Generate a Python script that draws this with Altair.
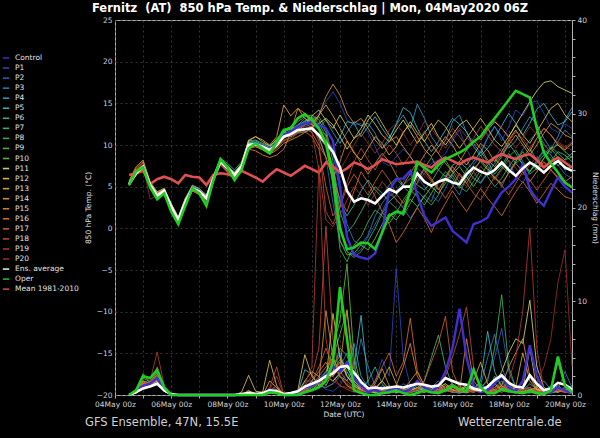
import altair as alt
import pandas as pd

# ---------------- categories / labels ----------------
SERIES = ["Control"] + [f"P{i}" for i in range(1, 21)] + ["Ens. average", "Oper", "Mean 1981-2010"]
MEMBERS = [f"P{i}" for i in range(1, 21)]
COLORS = ["#4030d0", "#2a4cc8", "#2e64c8", "#3480c4", "#38a0c8", "#40c0d0", "#3cc0a0", "#40c080",
          "#44b860", "#4cc048", "#60c838", "#e0e070", "#e8c850", "#e8b040", "#e89838", "#e88838",
          "#e07030", "#d86030", "#c84c34", "#b83c30", "#a03030", "#ffffff", "#22cc22", "#e05050"]
# forecast hours after 04May2020 00Z (6-hourly steps)
HOURS = list(range(12, 391, 6))
TITLE = "Fernitz\u00a0 (AT)\u00a0 850 hPa Temp. & Niederschlag | Mon, 04May2020 06Z"

# ---------------- 850 hPa temperature (°C) ----------------
T_AVG = [5.3, 6.6, 7.4, 5.2, 3.9, 4.5, 2.6, 1.0, 3.2, 4.8, 4.4, 3.6, 6.0, 8.0, 7.2, 6.4,
         7.4, 10.0, 10.1, 9.8, 9.4, 10.0, 11.0, 11.3, 11.8, 11.9, 12.0, 11.2, 10.2, 9.2, 7.3, 4.5,
         3.2, 3.6, 3.4, 3.0, 3.9, 4.7, 4.3, 5.0, 5.0, 6.6, 5.6, 5.1, 5.6, 5.9, 5.5, 5.3,
         6.5, 7.3, 6.8, 6.5, 7.0, 7.9, 7.0, 6.3, 7.2, 7.9, 7.4, 6.7, 7.5, 8.1, 7.3, 6.9]
T_MEAN = [6.4, 6.6, 6.9, 5.3, 5.9, 6.2, 5.9, 5.4, 6.4, 6.2, 6.1, 5.2, 6.4, 6.6, 6.5, 6.2,
          6.9, 6.5, 6.1, 5.6, 6.4, 7.1, 6.7, 6.3, 6.9, 7.5, 7.1, 6.7, 7.9, 7.4, 6.7, 7.2,
          7.9, 7.6, 7.1, 7.6, 8.3, 8.0, 7.7, 7.8, 7.9, 8.0, 7.6, 7.3, 8.0, 8.5, 8.1, 7.7,
          8.2, 8.5, 8.2, 7.9, 8.5, 8.9, 8.6, 8.3, 8.7, 8.9, 8.2, 7.3, 8.0, 8.5, 7.9, 7.3]
T_OPER = [5.2, 6.8, 7.3, 4.9, 3.5, 4.2, 2.0, 0.5, 2.7, 4.8, 4.2, 2.7, 5.8, 8.3, 7.3, 5.8,
          7.0, 9.6, 10.2, 9.6, 9.0, 10.3, 11.8, 12.0, 13.2, 13.7, 13.0, 12.0, 10.2, 6.0, 0.0, -2.5,
          -2.3, -1.7, -1.8, -2.5, -0.5, 1.5, 2.0, 1.8, 4.5, 7.9, 7.3, 6.7, 7.6, 8.3, 8.7, 9.1,
          9.6, 10.4, 11.0, 12.2, 13.2, 14.3, 15.4, 16.5, 16.1, 15.7, 12.0, 9.1, 7.8, 6.7, 5.5, 4.9]
T_CONTROL = [5.3, 6.7, 7.4, 5.1, 3.8, 4.5, 2.5, 0.8, 3.2, 4.9, 4.5, 3.5, 6.1, 8.1, 7.1, 6.2,
             7.3, 9.9, 10.2, 9.9, 9.5, 10.1, 11.2, 11.6, 12.2, 12.6, 12.8, 12.4, 12.0, 10.5, 5.0, -1.0,
             -3.2, -3.5, -3.7, -3.0, -0.5, 4.5, 5.9, 6.0, 6.9, 4.0, 1.5, 0.3, 0.8, 1.3, -0.3, -1.0,
             -1.7, 0.5, 0.8, 1.3, 3.0, 4.3, 5.0, 5.9, 7.7, 4.7, 3.5, 2.7, 4.5, 6.1, 5.0, 4.3]
T_P1 = [5.4, 6.8, 7.5, 5.0, 3.8, 4.6, 2.5, 0.8, 3.3, 5.0, 4.6, 3.4, 6.1, 8.2, 7.0, 6.2,
        7.6, 10.2, 10.4, 9.9, 9.2, 10.1, 11.3, 11.8, 12.5, 12.8, 13.0, 13.8, 15.2, 16.4, 15.0, 13.0,
        12.4, 12.6, 11.5, 9.8, 8.0, 7.5, 8.6, 9.5, 8.7, 7.2, 6.5, 7.8, 8.2, 9.0, 10.5, 11.8,
        9.5, 8.0, 9.2, 11.0, 12.3, 10.5, 12.2, 14.2, 13.5, 15.0, 15.3, 13.8, 12.0, 11.5, 12.5, 12.0]
T_P2 = [5.2, 6.5, 7.2, 5.3, 4.1, 4.4, 2.7, 1.2, 3.1, 4.7, 4.3, 3.7, 5.9, 7.9, 7.3, 6.5,
        7.2, 9.8, 9.9, 9.6, 9.5, 9.8, 10.8, 11.2, 12.2, 12.6, 12.1, 10.8, 8.5, 3.0, -1.5, -2.8,
        -3.2, -2.5, -1.0, 0.5, 2.0, 3.8, 4.5, 5.6, 7.0, 6.2, 5.0, 4.0, 3.2, 4.8, 6.5, 7.5,
        8.2, 6.8, 5.5, 6.8, 8.5, 9.6, 8.0, 6.2, 5.5, 6.8, 8.0, 9.2, 8.4, 7.6, 6.5, 6.0]
T_P3 = [5.3, 6.6, 7.3, 5.1, 3.9, 4.5, 2.6, 0.9, 3.2, 4.9, 4.5, 3.5, 6.0, 8.1, 7.1, 6.3,
        7.5, 10.1, 10.2, 9.6, 9.3, 10.2, 11.2, 11.0, 11.6, 12.2, 12.5, 11.8, 11.2, 9.0, 4.5, 0.5,
        -1.5, -2.0, -0.8, 1.5, 3.0, 4.2, 3.5, 2.4, 1.2, 2.5, 4.0, 3.2, 5.5, 6.4, 5.2, 4.0,
        6.2, 7.6, 8.8, 7.5, 6.2, 5.0, 6.8, 8.0, 9.5, 10.6, 11.5, 10.2, 9.0, 10.4, 11.8, 11.0]
T_P4 = [5.4, 6.7, 7.5, 5.3, 4.0, 4.7, 2.8, 1.1, 3.4, 5.0, 4.6, 3.8, 6.2, 8.0, 7.4, 6.7,
        7.3, 9.7, 10.0, 9.8, 9.7, 10.5, 11.6, 11.9, 12.4, 13.2, 12.5, 12.0, 13.0, 11.5, 10.2, 11.5,
        12.8, 12.3, 12.6, 11.4, 9.6, 10.8, 12.4, 13.6, 12.0, 14.9, 13.2, 11.0, 9.8, 10.5, 12.8, 13.6,
        11.5, 10.2, 9.0, 10.8, 12.2, 11.0, 9.6, 10.5, 12.0, 13.4, 12.5, 10.8, 9.5, 11.0, 13.0, 14.5]
T_P5 = [5.2, 6.5, 7.3, 5.4, 4.2, 4.6, 2.9, 1.3, 3.5, 4.9, 4.2, 3.9, 6.3, 7.8, 7.2, 6.8,
        7.7, 10.3, 10.5, 10.0, 9.6, 10.3, 11.4, 11.6, 12.0, 12.8, 13.3, 12.0, 10.5, 9.5, 11.0, 12.8,
        12.6, 11.0, 12.2, 13.4, 12.0, 10.8, 12.5, 14.5, 13.9, 12.0, 10.5, 9.2, 10.4, 11.8, 13.2, 12.5,
        11.6, 9.8, 8.7, 9.6, 10.8, 12.3, 13.8, 12.6, 11.2, 12.6, 14.3, 15.0, 13.6, 12.4, 12.8, 14.0]
T_P6 = [5.3, 6.4, 7.2, 5.1, 4.0, 4.4, 2.5, 1.0, 3.0, 4.6, 4.2, 3.6, 5.8, 8.3, 7.6, 6.6,
        7.8, 10.5, 10.6, 10.2, 9.9, 10.6, 11.2, 11.0, 11.5, 11.6, 11.8, 11.0, 9.8, 7.5, 3.0, 1.5,
        2.8, 4.5, 5.8, 4.6, 3.8, 5.2, 6.0, 5.0, 4.2, 5.5, 7.2, 8.5, 7.0, 6.2, 7.6, 8.0,
        7.2, 6.0, 5.4, 6.6, 7.8, 8.8, 10.2, 9.0, 7.6, 6.8, 8.2, 9.4, 8.8, 7.5, 8.3, 9.0]
T_P7 = [5.5, 6.9, 7.6, 5.4, 4.3, 4.8, 2.9, 1.4, 3.6, 5.2, 4.8, 4.0, 6.4, 8.4, 7.8, 7.0,
        8.0, 10.4, 10.2, 10.0, 9.7, 10.8, 11.5, 11.4, 12.1, 12.4, 12.8, 12.2, 10.0, 7.0, 2.0, -0.5,
        0.5, 2.0, 3.6, 5.0, 4.2, 3.2, 4.0, 5.2, 6.0, 5.2, 4.6, 5.6, 7.0, 8.2, 6.8, 5.5,
        7.0, 8.0, 9.2, 8.0, 6.5, 7.5, 9.0, 7.8, 8.5, 9.6, 8.2, 7.4, 8.0, 9.2, 8.8, 8.0]
T_P8 = [5.2, 6.6, 7.4, 5.0, 3.7, 4.3, 2.3, 0.7, 2.9, 4.6, 4.3, 3.4, 5.9, 8.1, 7.5, 6.5,
        7.2, 9.8, 10.3, 10.1, 9.7, 10.2, 11.1, 11.3, 12.0, 12.5, 13.0, 13.4, 12.0, 8.0, 0.5, -2.8,
        -3.5, -2.8, -1.5, 0.0, 1.8, 3.2, 2.4, 1.5, 3.0, 4.5, 3.6, 2.8, 4.0, 5.8, 6.4, 5.0,
        4.4, 5.6, 7.0, 6.2, 5.0, 6.0, 7.4, 8.6, 7.8, 6.5, 7.2, 8.4, 9.6, 8.5, 7.0, 7.5]
T_P9 = [5.4, 6.6, 7.3, 5.1, 3.8, 4.4, 2.4, 0.8, 3.1, 4.7, 4.4, 3.3, 5.9, 8.2, 7.4, 6.2,
        7.3, 10.0, 10.3, 10.0, 9.5, 10.0, 11.2, 11.7, 12.3, 12.9, 13.4, 12.6, 11.0, 5.0, -2.5, -4.0,
        -2.0, -1.0, 0.8, 2.2, 1.5, 0.6, 1.8, 3.4, 4.6, 3.8, 2.8, 4.2, 5.6, 6.8, 6.0, 4.8,
        5.8, 7.2, 8.0, 7.0, 6.0, 7.2, 8.6, 9.4, 8.0, 6.8, 7.8, 8.8, 9.8, 9.0, 8.2, 8.6]
T_P10 = [5.3, 6.7, 7.5, 5.2, 3.8, 4.4, 2.4, 0.7, 3.0, 4.8, 4.4, 3.5, 6.0, 8.1, 7.3, 6.3,
         7.4, 10.1, 10.2, 9.9, 9.5, 10.2, 11.5, 12.0, 12.8, 13.4, 13.6, 13.0, 11.5, 6.5, -1.5, -3.2,
         -3.0, -2.0, -2.6, -1.2, 0.5, 1.8, 1.0, 2.2, 3.5, 2.6, 3.8, 5.0, 4.2, 5.4, 6.6, 7.4,
         6.2, 5.0, 6.4, 7.6, 8.4, 7.4, 6.6, 8.0, 9.2, 8.0, 7.0, 8.4, 9.6, 10.0, 9.2, 8.5]
T_P11 = [5.1, 6.4, 7.2, 5.3, 4.1, 4.6, 2.8, 1.2, 3.3, 4.9, 4.5, 3.8, 6.1, 7.9, 7.1, 6.6,
         7.6, 10.1, 10.0, 9.6, 9.2, 9.8, 10.9, 11.2, 11.6, 11.8, 12.2, 12.6, 13.2, 12.4, 11.0, 9.5,
         10.8, 12.0, 13.6, 12.5, 11.2, 10.4, 11.8, 13.0, 11.6, 10.2, 11.4, 12.6, 11.0, 10.0, 11.2, 12.4,
         13.0, 11.8, 10.6, 11.8, 12.8, 12.0, 11.0, 12.4, 13.8, 15.2, 16.5, 17.5, 17.7, 17.0, 16.6, 16.2]
T_P12 = [5.4, 6.9, 7.6, 5.4, 4.2, 4.7, 2.7, 1.1, 3.4, 5.1, 4.7, 3.9, 6.3, 8.3, 7.5, 6.6,
         7.6, 10.5, 11.0, 10.4, 9.9, 10.6, 11.8, 12.2, 11.8, 12.4, 13.5, 14.2, 13.0, 12.0, 13.6, 12.2,
         10.8, 11.4, 13.0, 14.0, 12.6, 11.2, 10.0, 11.4, 12.8, 11.5, 10.4, 11.8, 13.0, 12.2, 10.8, 9.6,
         10.8, 12.0, 13.2, 12.0, 10.6, 9.8, 11.0, 12.4, 11.2, 10.2, 11.6, 13.0, 14.4, 15.0, 13.6, 12.8]
T_P13 = [5.6, 7.2, 8.0, 5.6, 4.4, 4.8, 3.0, 1.3, 3.6, 5.0, 4.6, 3.9, 6.2, 8.0, 7.0, 6.6,
         7.8, 10.6, 11.0, 10.6, 10.0, 11.0, 14.8, 13.5, 14.4, 13.2, 12.5, 13.6, 14.8, 13.5, 12.0, 10.5,
         9.0, 8.2, 9.6, 11.0, 10.2, 8.8, 9.8, 11.6, 12.4, 11.0, 9.5, 8.6, 9.8, 11.0, 10.0, 8.5,
         7.6, 8.8, 10.2, 9.4, 8.0, 9.2, 10.6, 11.8, 10.4, 9.2, 10.8, 12.0, 11.2, 10.0, 9.4, 10.2]
T_P14 = [5.7, 7.4, 8.2, 5.5, 4.0, 4.5, 2.4, 0.9, 3.0, 4.5, 4.1, 3.2, 5.7, 7.8, 6.8, 5.8,
         7.0, 9.6, 9.8, 9.4, 8.9, 9.4, 10.2, 10.6, 11.0, 11.5, 12.0, 13.5, 15.8, 17.3, 16.0, 13.8,
         12.6, 13.2, 12.0, 10.6, 9.6, 10.4, 11.0, 9.8, 8.6, 7.4, 8.8, 10.0, 9.0, 7.8, 6.8, 8.0,
         9.4, 10.6, 9.6, 8.2, 7.4, 8.6, 10.0, 11.2, 10.0, 8.8, 10.0, 11.4, 12.6, 12.0, 11.2, 10.8]
T_P15 = [5.2, 6.5, 7.3, 5.2, 4.1, 4.7, 2.8, 1.2, 3.3, 4.8, 4.3, 3.6, 6.0, 7.7, 6.9, 6.4,
         7.0, 9.5, 9.3, 8.8, 8.5, 8.8, 9.5, 11.5, 14.4, 13.8, 12.5, 11.0, 8.5, 6.0, 8.0, 10.5,
         9.2, 7.8, 6.5, 7.8, 9.0, 8.0, 6.4, 5.2, 6.6, 8.0, 7.0, 5.8, 4.6, 6.0, 7.4, 6.4,
         5.4, 6.8, 8.2, 7.2, 6.0, 5.4, 6.6, 7.8, 6.8, 5.6, 6.8, 8.0, 7.0, 6.0, 5.6, 6.2]
T_P16 = [5.4, 7.0, 7.8, 5.3, 3.9, 4.5, 2.6, 1.0, 3.2, 4.7, 4.2, 3.4, 5.8, 7.9, 7.1, 6.1,
         7.1, 9.8, 10.0, 9.7, 9.2, 9.9, 10.8, 11.4, 11.8, 12.0, 11.5, 10.0, 8.5, 6.0, 3.5, 2.0,
         4.5, 6.8, 5.5, 3.8, 2.0, 0.5, -1.7, -0.5, 1.0, 2.5, 1.2, -0.5, 1.5, 3.0, 4.5, 3.2,
         2.0, 3.4, 4.8, 3.6, 2.6, 1.5, 3.0, 4.4, 5.6, 4.4, 3.0, 4.2, 5.4, 4.6, 3.8, 3.5]
T_P17 = [5.5, 6.8, 7.6, 5.0, 3.6, 4.3, 2.2, 0.6, 2.9, 4.5, 4.0, 3.1, 5.6, 7.6, 6.7, 5.9,
         6.9, 9.6, 9.8, 9.5, 9.0, 9.6, 10.5, 10.8, 11.4, 11.6, 11.0, 9.5, 5.0, 1.5, 2.5, 5.0,
         6.5, 5.2, 4.0, 5.6, 7.0, 5.8, 4.2, 3.0, 4.4, 6.0, 7.2, 6.0, 4.8, 3.6, 5.0, 6.6,
         5.4, 4.2, 3.4, 4.8, 6.2, 5.2, 4.0, 5.4, 6.8, 5.8, 4.6, 5.8, 7.0, 6.2, 5.6, 5.0]
T_P18 = [5.3, 6.5, 7.4, 5.1, 3.8, 4.4, 2.5, 0.9, 3.1, 4.6, 4.1, 3.3, 5.7, 7.7, 6.9, 6.0,
         7.0, 9.7, 9.9, 9.6, 9.1, 9.7, 10.6, 11.0, 11.6, 12.0, 12.3, 10.5, 2.0, 0.5, 2.8, 5.5,
         8.0, 9.6, 8.2, 7.0, 8.6, 10.0, 9.0, 7.6, 8.8, 10.4, 11.6, 10.2, 9.0, 10.6, 12.0, 11.0,
         9.8, 10.8, 12.2, 11.2, 10.0, 9.2, 10.4, 11.6, 10.8, 9.6, 10.8, 12.0, 11.2, 10.2, 9.6, 10.4]
T_P19 = [5.2, 6.4, 7.2, 5.0, 3.7, 4.4, 2.5, 0.9, 3.1, 4.7, 4.2, 3.4, 5.8, 7.8, 7.0, 6.1,
         7.1, 9.8, 10.1, 9.7, 9.3, 9.9, 10.9, 11.2, 11.7, 12.0, 11.6, 7.0, 1.0, 0.2, 1.6, 3.4,
         5.0, 4.0, 2.8, 4.2, 5.6, 4.6, 3.4, 2.6, 4.0, 5.4, 6.6, 5.6, 4.6, 5.8, 7.0, 6.0,
         5.0, 6.2, 7.4, 6.6, 5.8, 7.0, 8.2, 7.2, 6.4, 7.6, 8.6, 7.8, 7.0, 8.0, 7.4, 7.0]
T_P20 = [5.4, 6.7, 7.5, 3.5, 3.9, 4.6, 2.7, 1.0, 3.3, 4.9, 4.5, 3.7, 6.1, 8.0, 7.2, 6.4,
         7.3, 10.0, 10.2, 9.8, 9.4, 10.1, 11.1, 11.5, 12.0, 12.4, 12.6, 12.0, 11.0, 9.5, 7.0, 8.5,
         10.0, 11.4, 10.2, 9.0, 10.2, 11.8, 12.6, 11.4, 10.0, 11.2, 12.8, 12.0, 10.8, 9.6, 10.8, 12.0,
         11.0, 9.8, 10.6, 11.8, 13.0, 12.0, 10.8, 9.6, 10.8, 12.2, 11.2, 10.0, 9.2, 10.4, 9.8, 9.4]

# ---------------- 6-hourly precipitation (mm) ----------------
P_AVG = [0, 0.3, 0.7, 0.9, 1.2, 0.5, 0.1, 0, 0, 0, 0, 0, 0, 0, 0, 0,
         0.1, 0.2, 0.1, 0.2, 0.5, 0.4, 0.1, 0.2, 0.4, 0.9, 1.2, 1.5, 2.0, 2.3, 3.0, 3.1,
         2.4, 1.4, 0.7, 0.8, 0.7, 0.8, 0.9, 0.8, 1.0, 1.2, 1.1, 0.9, 1.0, 1.8, 1.5, 1.2,
         1.1, 0.7, 0.5, 0.9, 1.6, 2.1, 1.3, 0.9, 0.8, 2.1, 1.2, 0.5, 0.7, 1.3, 1.1, 0.6]
P_OPER = [0, 0.5, 2.0, 1.8, 2.7, 0.8, 0, 0, 0, 0, 0, 0, 0, 0, 0, 0,
          0, 0, 0, 0, 0.3, 0.2, 0, 0, 0, 0.3, 0.5, 0.8, 1.5, 3.5, 11.5, 6.0,
          0.5, 0.2, 0, 0, 0.2, 0.3, 0.5, 0.2, 0, 0.2, 0.5, 0.3, 0.2, 0.5, 1.0, 0.6,
          0.4, 2.7, 0.8, 0.2, 0.2, 0.6, 0.4, 0.3, 0.2, 0.4, 0.2, 0.1, 0.5, 4.1, 1.0, 0.3]
P_CONTROL = [0, 0.4, 1.0, 1.2, 1.8, 0.6, 0, 0, 0, 0, 0, 0, 0, 0, 0, 0,
             0, 0.2, 0, 0, 0.6, 0.4, 0, 0, 0.3, 0.8, 1.0, 1.5, 2.2, 3.0, 2.5, 3.5,
             1.8, 1.0, 0.3, 0.6, 0.2, 0.5, 0.8, 0.3, 0.6, 1.5, 0.8, 0.4, 0.9, 2.5, 5.0, 9.2,
             4.0, 1.0, 0.3, 0.5, 1.2, 2.0, 0.8, 0.4, 1.5, 5.3, 2.0, 0.4, 0.3, 0.8, 0.5, 0.2]
P_P1 = [0, 0.3, 1.2, 0.8, 2.0, 0.4, 0, 0, 0, 0, 0, 0, 0, 0, 0, 0,
        0, 0, 0, 0, 0.2, 0.6, 0, 0, 0, 0.5, 0.8, 1.2, 0.6, 0.4, 1.0, 2.5,
        1.2, 0.6, 0.3, 1.5, 3.8, 2.0, 13.5, 4.0, 1.0, 0.5, 0.8, 0.3, 0.6, 1.0, 0.4, 0.2,
        0.5, 0.8, 0.3, 0.6, 1.0, 0.5, 0.3, 0.8, 1.2, 0.6, 0.3, 0.2, 0.5, 0.8, 0.4, 0.3]
P_P2 = [0, 0.2, 0.9, 1.0, 1.5, 0.5, 0, 0, 0, 0, 0, 0, 0, 0, 0, 0,
        0, 0, 0, 0, 0.4, 0.8, 0, 0, 0.2, 0.6, 1.0, 1.8, 2.5, 3.2, 4.5, 2.0,
        1.0, 0.4, 0.2, 0.5, 0.8, 0.3, 0.6, 1.2, 0.8, 0.3, 0.5, 1.0, 0.6, 0.3, 0.8, 1.5,
        0.6, 0.3, 0.5, 1.8, 4.0, 7.1, 2.5, 0.8, 0.4, 0.6, 0.3, 0.5, 1.0, 0.6, 0.3, 0.2]
P_P3 = [0, 0.3, 1.1, 0.9, 1.7, 0.4, 0, 0, 0, 0, 0, 0, 0, 0, 0, 0,
        0, 0, 0, 0, 0.3, 0.3, 0, 0, 0.3, 1.5, 1.5, 1.0, 1.8, 2.0, 3.0, 4.5,
        2.0, 6.0, 3.0, 1.0, 0.4, 0.8, 0.5, 0.3, 0.6, 1.0, 0.4, 0.2, 0.5, 0.8, 1.2, 0.6,
        0.3, 0.5, 1.0, 4.0, 6.5, 3.0, 1.0, 0.4, 0.3, 0.6, 0.8, 0.4, 0.3, 0.6, 2.5, 0.8]
P_P4 = [0, 0.2, 0.8, 1.1, 1.4, 0.5, 0, 0, 0, 0, 0, 0, 0, 0, 0, 0,
        0, 0, 0, 0, 0.2, 0.2, 0, 0, 0, 0.6, 1.0, 1.4, 2.0, 1.5, 2.4, 3.0,
        5.5, 2.0, 0.8, 0.4, 1.0, 0.6, 0.3, 0.5, 1.0, 0.6, 0.3, 0.8, 1.5, 0.6, 0.3, 0.2,
        0.4, 0.8, 1.2, 0.6, 0.3, 0.5, 0.8, 0.3, 0.2, 0.5, 0.8, 1.5, 0.6, 0.3, 0.5, 1.0]
P_P5 = [0, 0.3, 1.0, 1.0, 1.9, 0.6, 0, 0, 0, 0, 0, 0, 0, 0, 0, 0,
        0, 0, 0, 0, 0.4, 0.5, 0, 0, 0.2, 2.7, 2.2, 1.0, 0.8, 1.2, 2.0, 1.5,
        3.0, 8.5, 1.2, 0.5, 0.3, 0.6, 1.0, 0.4, 0.3, 0.5, 0.8, 0.3, 0.2, 0.6, 1.0, 0.5,
        0.3, 0.6, 1.5, 6.8, 2.5, 0.8, 0.4, 0.3, 0.6, 0.8, 0.4, 0.3, 0.6, 1.0, 0.4, 0.3]
P_P6 = [0, 0.4, 1.3, 1.0, 1.6, 0.5, 0, 0, 0, 0, 0, 0, 0, 0, 0, 0,
        0, 0.1, 0, 0, 0.3, 0.3, 0, 0, 0.2, 0.4, 0.8, 1.5, 2.2, 3.0, 4.2, 2.5,
        1.0, 0.5, 1.5, 3.0, 1.2, 0.4, 0.2, 0.6, 1.0, 0.5, 0.3, 0.6, 1.2, 0.8, 0.4, 0.3,
        0.5, 1.0, 0.6, 0.3, 2.0, 1.0, 0.4, 0.2, 0.5, 1.2, 0.6, 0.3, 0.2, 0.4, 0.8, 0.3]
P_P7 = [0, 0.6, 2.3, 1.2, 2.2, 0.7, 0, 0, 0, 0, 0, 0, 0, 0, 0, 0,
        0, 0, 0, 0, 0.2, 0.3, 0, 0, 0, 0.3, 0.6, 1.0, 1.6, 2.5, 3.8, 3.0,
        1.5, 0.6, 0.3, 0.8, 0.4, 0.2, 0.5, 0.8, 0.3, 0.6, 1.5, 4.0, 6.4, 3.0, 1.0, 0.4,
        0.2, 0.5, 0.8, 0.4, 0.3, 0.6, 1.0, 0.5, 0.3, 0.2, 0.6, 0.4, 0.3, 0.8, 0.5, 0.3]
P_P8 = [0, 0.3, 1.0, 1.1, 1.6, 0.5, 0, 0, 0, 0, 0, 0, 0, 0, 0, 0,
        0, 0, 0, 0, 0.3, 0.2, 0, 0, 0.2, 0.5, 1.0, 1.2, 2.0, 2.6, 5.0, 4.2,
        2.0, 0.8, 0.4, 0.2, 0.5, 0.3, 0.6, 0.4, 0.2, 0.5, 0.3, 0.6, 0.4, 0.8, 0.5, 0.3,
        0.6, 0.4, 0.8, 1.5, 5.0, 10.7, 3.0, 0.8, 0.4, 0.3, 0.5, 0.6, 0.3, 0.4, 0.8, 0.5]
P_P9 = [0, 0.5, 1.5, 1.3, 2.5, 0.6, 0, 0, 0, 0, 0, 0, 0, 0, 0, 0,
        0, 0, 0, 0, 0.2, 0.2, 0, 0, 0, 0.4, 0.8, 1.5, 2.5, 4.0, 6.5, 9.0,
        3.0, 1.0, 0.5, 0.3, 0.6, 1.0, 0.5, 0.3, 0.4, 0.8, 0.5, 0.3, 0.6, 0.4, 0.8, 1.0,
        0.5, 0.3, 0.6, 0.8, 0.4, 0.6, 1.5, 0.8, 0.3, 0.5, 0.6, 0.4, 0.3, 0.6, 0.4, 0.2]
P_P10 = [0, 0.5, 1.8, 1.4, 2.4, 0.7, 0, 0, 0, 0, 0, 0, 0, 0, 0, 0,
         0, 0, 0, 0, 0.3, 0.2, 0, 0, 0.2, 0.3, 0.6, 1.2, 2.0, 5.0, 8.0, 14.0,
         4.0, 1.0, 0.5, 0.2, 0.4, 0.6, 0.3, 0.5, 0.8, 0.4, 0.3, 0.5, 0.8, 1.2, 0.6, 0.3,
         0.4, 0.6, 0.3, 0.5, 0.8, 1.5, 0.6, 0.3, 0.4, 0.6, 0.3, 0.5, 0.8, 3.5, 0.8, 0.4]
P_P11 = [0, 0.2, 0.8, 0.9, 1.3, 0.4, 0, 0, 0, 0, 0, 0, 0, 0, 0, 0,
         0, 0.4, 0.2, 0, 0.5, 0.3, 0, 0, 0.3, 0.8, 1.2, 1.6, 2.0, 1.5, 2.2, 3.0,
         1.5, 0.8, 0.4, 0.3, 0.6, 0.8, 0.4, 0.3, 0.5, 0.8, 0.4, 0.6, 1.0, 0.5, 0.3, 0.6,
         0.8, 0.5, 0.3, 0.6, 1.2, 2.5, 4.5, 6.0, 5.5, 10.1, 3.0, 0.8, 0.4, 0.3, 0.6, 0.4]
P_P12 = [0, 0.3, 1.2, 1.0, 1.7, 0.5, 0, 0, 0, 0, 0, 0, 0, 0, 0, 0,
         0.3, 2.1, 0.4, 0.3, 3.7, 1.0, 0, 0, 0.5, 4.3, 2.0, 1.0, 1.5, 8.7, 4.0, 2.0,
         1.2, 0.6, 0.3, 0.8, 1.5, 0.6, 0.3, 0.4, 0.8, 1.2, 0.6, 0.3, 0.5, 0.8, 0.4, 0.6,
         1.0, 0.5, 0.3, 0.6, 1.2, 0.6, 0.4, 0.8, 0.5, 5.0, 0.6, 0.3, 0.5, 0.8, 0.4, 0.3]
P_P13 = [0, 0.4, 1.5, 1.2, 2.0, 0.6, 0, 0, 0, 0, 0, 0, 0, 0, 0, 0,
         0, 0.5, 0, 0, 1.5, 0.8, 0, 0, 0.2, 1.5, 2.5, 2.0, 1.0, 2.5, 3.5, 2.0,
         1.0, 0.5, 0.3, 0.6, 1.5, 3.0, 1.2, 0.5, 0.3, 0.6, 1.0, 0.4, 0.8, 1.2, 0.6, 0.3,
         0.5, 1.5, 3.5, 1.2, 0.5, 0.3, 0.6, 0.8, 4.5, 1.5, 0.6, 0.3, 0.5, 0.8, 0.4, 0.3]
P_P14 = [0, 0.3, 1.1, 0.9, 1.5, 0.4, 0, 0, 0, 0, 0, 0, 0, 0, 0, 0,
         0, 0, 0, 0, 0.5, 0.6, 0, 0, 0, 0.6, 1.0, 1.5, 9.0, 4.0, 2.0, 1.0,
         0.6, 0.3, 0.5, 1.2, 2.8, 1.0, 0.4, 0.6, 1.5, 2.5, 1.0, 0.4, 0.3, 0.6, 0.8, 0.4,
         0.3, 0.5, 0.8, 0.4, 0.6, 1.0, 3.0, 4.5, 6.0, 2.0, 0.6, 0.3, 0.4, 0.8, 0.5, 0.3]
P_P15 = [0, 0.4, 1.4, 1.1, 1.8, 0.5, 0, 0, 0, 0, 0, 0, 0, 0, 0, 0,
         0, 0, 0, 0, 0.4, 0.3, 0, 0, 0.3, 0.8, 1.5, 2.5, 3.5, 2.0, 3.0, 9.1,
         1.2, 0.6, 0.3, 0.8, 0.4, 0.6, 1.0, 3.0, 5.5, 2.0, 0.8, 0.4, 0.6, 1.0, 0.5, 0.3,
         6.0, 1.5, 0.6, 0.3, 0.5, 0.8, 1.2, 0.6, 0.3, 0.5, 0.8, 0.4, 0.3, 0.6, 0.4, 0.2]
P_P16 = [0, 0.3, 1.0, 1.0, 1.6, 0.5, 0, 0, 0, 0, 0, 0, 0, 0, 0, 0,
         0, 0, 0, 0, 0.6, 0.5, 0, 0, 0.2, 0.5, 1.0, 2.0, 3.0, 4.0, 2.5, 1.5,
         0.8, 0.4, 0.6, 1.5, 3.0, 4.5, 2.0, 3.5, 8.2, 2.5, 1.0, 0.5, 0.3, 0.8, 1.2, 0.6,
         0.4, 0.8, 0.5, 0.3, 0.6, 1.0, 0.5, 0.3, 0.6, 0.4, 0.8, 0.3, 0.5, 0.6, 0.3, 0.2]
P_P17 = [0, 0.4, 1.3, 1.2, 2.2, 0.6, 0, 0, 0, 0, 0, 0, 0, 0, 0, 0,
         0, 0, 0, 0, 0.5, 1.0, 0, 0, 0.3, 0.6, 1.5, 3.0, 5.0, 3.0, 2.0, 1.2,
         0.6, 0.3, 0.5, 0.8, 0.4, 0.6, 1.0, 0.5, 0.3, 0.8, 1.5, 3.5, 5.5, 8.4, 2.5, 0.8,
         0.4, 0.3, 0.6, 0.4, 0.8, 1.2, 0.6, 0.3, 0.5, 0.8, 0.4, 0.3, 0.6, 0.4, 0.3, 0.2]
P_P18 = [0, 0.4, 1.4, 1.3, 3.0, 0.8, 0, 0, 0, 0, 0, 0, 0, 0, 0, 0,
         0, 0, 0, 0, 0.8, 3.0, 0, 0, 0.4, 1.0, 2.0, 5.0, 18.0, 6.0, 2.0, 1.0,
         0.5, 0.3, 0.6, 1.0, 0.5, 0.3, 0.6, 0.8, 0.4, 0.6, 1.0, 0.5, 0.5, 2.0, 4.0, 6.5,
         9.4, 3.0, 0.8, 0.4, 0.3, 0.6, 0.5, 0.3, 0.6, 0.8, 0.4, 0.3, 0.5, 0.6, 0.3, 0.2]
P_P19 = [0, 0.6, 2.0, 1.5, 4.6, 1.0, 0, 0, 0, 0, 0, 0, 0, 0, 0, 0,
         0, 0, 0, 0, 0.6, 2.0, 0, 0, 0.5, 1.2, 3.0, 24.5, 6.0, 2.0, 1.0, 0.6,
         0.3, 0.5, 0.8, 0.4, 0.3, 0.6, 1.0, 0.5, 0.3, 0.6, 0.4, 0.8, 1.2, 0.5, 0.3, 0.6,
         0.4, 0.3, 0.6, 0.8, 0.4, 0.6, 1.5, 4.0, 9.0, 17.8, 5.0, 0.6, 0.3, 0.5, 0.8, 0.4]
P_P20 = [0, 0.3, 1.1, 1.0, 1.9, 0.5, 0, 0, 0, 0, 0, 0, 0, 0, 0, 0,
         0, 0, 0, 0, 0.3, 0.4, 0, 0, 0.2, 0.5, 0.8, 1.2, 2.0, 1.5, 1.0, 0.8,
         0.5, 0.3, 0.6, 0.4, 0.3, 0.5, 0.8, 0.4, 0.3, 0.6, 0.4, 0.3, 0.5, 0.8, 0.4, 0.3,
         0.6, 0.4, 0.3, 0.5, 0.8, 0.4, 0.3, 0.6, 0.5, 0.8, 1.5, 3.0, 6.0, 12.0, 15.5, 3.0]

TEMP = {"Control": T_CONTROL, "P1": T_P1, "P2": T_P2, "P3": T_P3, "P4": T_P4, "P5": T_P5,
        "P6": T_P6, "P7": T_P7, "P8": T_P8, "P9": T_P9, "P10": T_P10, "P11": T_P11,
        "P12": T_P12, "P13": T_P13, "P14": T_P14, "P15": T_P15, "P16": T_P16, "P17": T_P17,
        "P18": T_P18, "P19": T_P19, "P20": T_P20, "Ens. average": T_AVG, "Oper": T_OPER,
        "Mean 1981-2010": T_MEAN}
PRECIP = {"Control": P_CONTROL, "P1": P_P1, "P2": P_P2, "P3": P_P3, "P4": P_P4, "P5": P_P5,
          "P6": P_P6, "P7": P_P7, "P8": P_P8, "P9": P_P9, "P10": P_P10, "P11": P_P11,
          "P12": P_P12, "P13": P_P13, "P14": P_P14, "P15": P_P15, "P16": P_P16, "P17": P_P17,
          "P18": P_P18, "P19": P_P19, "P20": P_P20, "Ens. average": P_AVG, "Oper": P_OPER}

rows = []
for s in SERIES:
    t = TEMP[s]
    p = PRECIP.get(s)
    if len(t) != len(HOURS) or (p is not None and len(p) != len(HOURS)):
        raise ValueError(f"length mismatch for {s}: {len(t)} / {None if p is None else len(p)}")
    for i, h in enumerate(HOURS):
        rows.append({"hour": h, "series": s, "temp": t[i],
                     "precip": (p[i] if p is not None else None)})
df = pd.DataFrame(rows)

FONT = "DejaVu Sans"
LBL = "#d0d0d0"

LABEL_EXPR = ("datum.value % 48 == 0 ? (((4 + datum.value / 24) < 10 ? '0' : '') + "
              "(4 + datum.value / 24) + 'May 00z') : ''")

X = alt.X("hour:Q",
          scale=alt.Scale(domain=[0, 390], nice=False, zero=False),
          axis=alt.Axis(values=list(range(0, 391, 24)), labelExpr=LABEL_EXPR, labelOverlap=False,
                        labelFlush=False, title="Date (UTC)", grid=True, tickSize=3,
                        labelPadding=2, titlePadding=3, orient="bottom"))

COLOR = alt.Color("series:N", title=None,
                  scale=alt.Scale(domain=SERIES, range=COLORS),
                  legend=alt.Legend(orient="none", legendX=-113, legendY=34,
                                    symbolType="stroke", symbolSize=40, symbolStrokeWidth=1.6,
                                    labelColor="#e0e0e0", labelFont=FONT, labelFontSize=7.5,
                                    rowPadding=2.05, padding=0, labelOffset=5,
                                    labelLimit=120))

Y_T = alt.Y("temp:Q", scale=alt.Scale(domain=[-20, 25], nice=False, zero=False),
            axis=alt.Axis(values=list(range(-20, 26, 5)), title="850 hPa Temp. (°C)",
                          grid=True, ticks=False, labelPadding=3, titlePadding=4,
                          orient="left", labelFlush=False))
Y_P = alt.Y("precip:Q", scale=alt.Scale(domain=[0, 40], nice=False, zero=True),
            axis=alt.Axis(values=list(range(0, 41, 2)),
                          labelExpr="datum.value % 10 == 0 ? datum.value : ''",
                          title="Niederschlag (mm)", grid=False, ticks=True, tickSize=3,
                          labelPadding=2, titlePadding=4, orient="right", labelFlush=False,
                          labelOverlap=False))


def lines(y, series_list, width, opacity=1.0):
    return (alt.Chart(df)
            .transform_filter(alt.FieldOneOfPredicate(field="series", oneOf=series_list))
            .mark_line(strokeWidth=width, opacity=opacity)
            .encode(x=X, y=y, color=COLOR, detail="series:N"))


temp_group = alt.layer(
    lines(Y_T, MEMBERS, 0.9, 0.9),
    lines(Y_T, ["Control"], 2.4),
    lines(Y_T, ["Mean 1981-2010"], 2.6),
    lines(Y_T, ["Ens. average"], 2.6),
    lines(Y_T, ["Oper"], 2.6),
)
precip_group = alt.layer(
    lines(Y_P, MEMBERS, 0.9, 0.9),
    lines(Y_P, ["Control"], 2.4),
    lines(Y_P, ["Ens. average"], 2.6),
    lines(Y_P, ["Oper"], 2.6),
)


def label(text, x, y, size, weight="normal", align="left", color=LBL):
    return (alt.Chart(pd.DataFrame({"t": [text]}))
            .mark_text(font=FONT, fontSize=size, fontWeight=weight, align=align,
                       baseline="middle", color=color)
            .encode(text="t:N", x=alt.value(x), y=alt.value(y)))


chart = (alt.layer(temp_group, precip_group,
                   label(TITLE, 195, -11, 11.5, "bold", "center", "#ffffff"),
                   label("GFS Ensemble, 47N, 15.5E", -30, 403, 11.5),
                   label("Wetterzentrale.de", 343, 403, 11.5))
         .resolve_scale(y="independent")
         .properties(width=457, height=375, background="#000000",
                     padding={"left": 115, "top": 20, "right": 28, "bottom": 43},
                     autosize=alt.AutoSizeParams(type="none"))
         .configure_view(stroke="#b0b0b0", strokeWidth=1)
         .configure_axis(labelColor=LBL, labelFont=FONT, labelFontSize=7.5,
                         titleColor="#e0e0e0", titleFont=FONT, titleFontSize=7.5,
                         titleFontWeight="normal", domain=False, tickColor="#b0b0b0",
                         gridColor="#4a4a4a", gridDash=[2, 3], gridWidth=0.7))

chart.save("out.html", embed_options={"renderer": "svg", "actions": False})
